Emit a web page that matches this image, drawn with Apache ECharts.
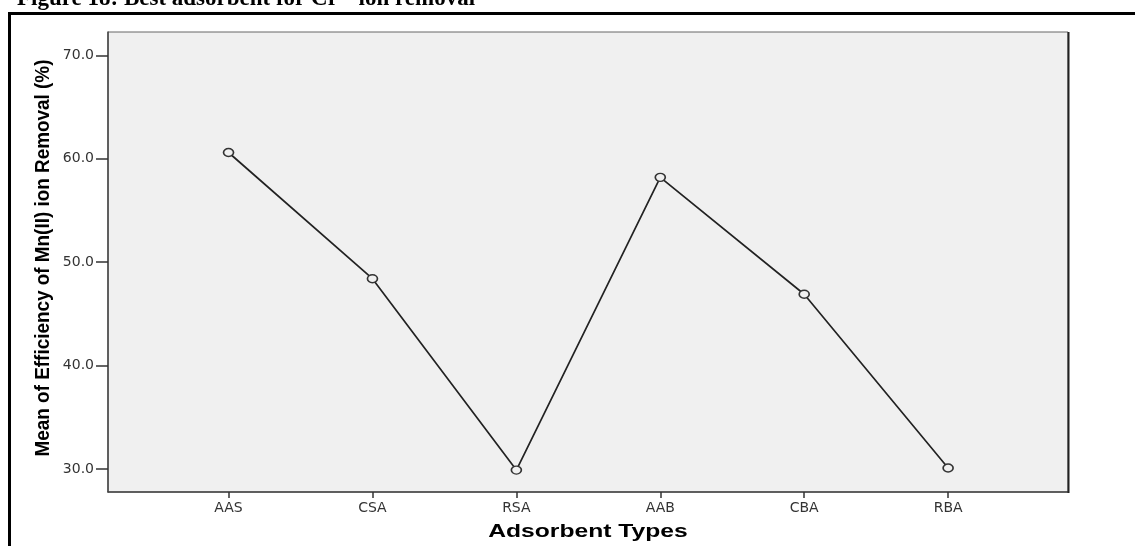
<!DOCTYPE html>
<html>
<head>
<meta charset="utf-8">
<script src="https://cdn.jsdelivr.net/npm/echarts@6/dist/echarts.min.js"></script>
<style>
html,body{margin:0;padding:0;background:#fff;overflow:hidden;}
#c{width:1135px;height:546px;}
</style>
</head>
<body>
<div id="c"></div>
<script>
// Data
const categories = ['AAS', 'CSA', 'RSA', 'AAB', 'CBA', 'RBA'];
const meanEfficiency = [60.6, 48.4, 29.9, 58.2, 46.9, 30.1];
const yTicks = [30, 40, 50, 60, 70];
const xTicks = [0, 1, 2, 3, 4, 5];

const chart = echarts.init(document.getElementById('c'), null, {renderer: 'canvas', width: 1135, height: 546});
const seriesData = categories.map((c, i) => [i, meanEfficiency[i]]);

chart.setOption({
  animation: false,
  backgroundColor: '#ffffff',
  graphic: [
    {
      type: 'rect', z: 0, silent: true,
      shape: {x: 9.5, y: 13.5, width: 1300, height: 700},
      style: {fill: 'none', stroke: '#000', lineWidth: 3}
    },
    {
      type: 'text', x: 17, y: -12, silent: true,
      style: {
        text: 'Figure 18: Best adsorbent for Cr\u2076\u207A ion removal',
        font: 'bold 23px "Liberation Serif", "Times New Roman", serif',
        fill: '#000'
      }
    },
    {
      type: 'line', silent: true, z: 10,
      shape: {x1: 1068.5, y1: 32, x2: 1068.5, y2: 493},
      style: {stroke: '#222', lineWidth: 2}
    },
    {
      type: 'text', silent: true, z: 10,
      x: 43, y: 258, rotation: Math.PI / 2, scaleX: 0.9,
      style: {
        text: 'Mean of Efficiency of Mn(II) ion Removal (%)',
        font: 'bold 21px "Liberation Sans", Arial, sans-serif',
        fill: '#000', align: 'center', verticalAlign: 'middle'
      }
    },
    {
      type: 'text', silent: true, z: 10,
      x: 588, y: 532, scaleX: 1.37,
      style: {
        text: 'Adsorbent Types',
        font: 'bold 18px "Liberation Sans", Arial, sans-serif',
        fill: '#000', align: 'center', verticalAlign: 'middle'
      }
    }
  ],
  grid: {
    left: 108, width: 960, top: 32, height: 460,
    show: true, backgroundColor: '#f0f0f0', borderColor: '#666', borderWidth: 1,
    containLabel: false
  },
  xAxis: {
    type: 'value',
    min: -0.8375, max: 5.833,
    axisLine: {show: true, onZero: false, lineStyle: {color: '#444', width: 1.5}},
    axisTick: {show: true, customValues: xTicks, length: 6, lineStyle: {color: '#333', width: 1.5}},
    axisLabel: {
      customValues: xTicks,
      formatter: v => categories[Math.round(v)],
      fontFamily: '"DejaVu Sans", Verdana, sans-serif', fontSize: 14, color: '#333', margin: 9
    },
    splitLine: {show: false}
  },
  yAxis: {
    type: 'value',
    min: 27.78, max: 72.25,
    axisLine: {show: true, onZero: false, lineStyle: {color: '#444', width: 1.5}},
    axisTick: {show: true, customValues: yTicks, length: 12, lineStyle: {color: '#333', width: 1.5}},
    axisLabel: {
      customValues: yTicks,
      formatter: v => Number(v).toFixed(1),
      fontFamily: '"DejaVu Sans", Verdana, sans-serif', fontSize: 14, color: '#333', margin: 14
    },
    splitLine: {show: false}
  },
  series: [{
    type: 'line',
    data: seriesData,
    lineStyle: {color: '#222', width: 1.7},
    symbol: 'circle',
    symbolSize: [10, 8],
    showAllSymbol: true,
    itemStyle: {color: '#f0f0f0', borderColor: '#333', borderWidth: 1.5},
    z: 5
  }]
});
</script>
</body>
</html>
